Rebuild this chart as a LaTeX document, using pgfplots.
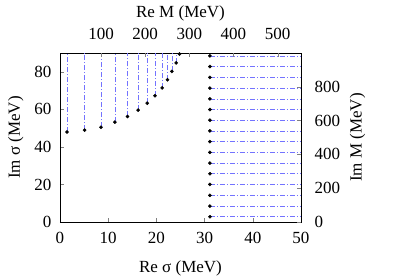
\documentclass[border=0pt]{standalone}
\usepackage{pgfplots}
\pgfplotsset{compat=1.18}
\usepackage{fontspec}
\setmainfont{Liberation Serif}
\definecolor{lineblue}{rgb}{0.45,0.45,1}
\begin{document}
\begin{tikzpicture}
\pgfplotsset{
  every axis/.append style={
    scale only axis, width=241pt, height=169pt,
    /pgf/number format/assume math mode=true,
    tick label style={font=\fontsize{17}{20}\selectfont},
    label style={font=\fontsize{17}{20}\selectfont},
  },
  dd/.style={draw=lineblue, line width=0.6pt, no marks, dash pattern=on 5pt off 2pt on 1pt off 2pt, unbounded coords=jump, forget plot},
}
\begin{axis}[
  name=main,
  xmin=0, xmax=50, ymin=0, ymax=90,
  xtick={0,10,20,30,40,50}, ytick={0,20,40,60,80},
  tick pos=left,
  xticklabel shift=7pt, yticklabel shift=5pt,
  xlabel shift=10pt, ylabel shift=4pt,
  xlabel={Re σ (MeV)}, ylabel={Im σ (MeV)},
  clip=true,
]
% vertical lines from left points up to the top edge
\addplot[dd] coordinates {
 (1.45,47.9) (1.45,90) (nan,nan)
 (5.1,48.9) (5.1,90) (nan,nan)
 (8.5,50.5) (8.5,90) (nan,nan)
 (11.4,53.2) (11.4,90) (nan,nan)
 (14.0,56.2) (14.0,90) (nan,nan)
 (16.2,59.6) (16.2,90) (nan,nan)
 (18.1,63.3) (18.1,90) (nan,nan)
 (19.7,67.2) (19.7,90) (nan,nan)
 (21.2,71.4) (21.2,90) (nan,nan)
 (22.3,75.7) (22.3,90) (nan,nan)
 (23.2,80.2) (23.2,90) (nan,nan)
 (24.1,84.7) (24.1,90) (nan,nan)
 (24.8,89.5) (24.8,90)
};
% horizontal lines from right points to the right edge
\addplot[dd] coordinates {
 (31.1,2.8) (50,2.8) (nan,nan)
 (31.1,8.5) (50,8.5) (nan,nan)
 (31.1,14.2) (50,14.2) (nan,nan)
 (31.1,20.0) (50,20.0) (nan,nan)
 (31.1,25.7) (50,25.7) (nan,nan)
 (31.1,31.4) (50,31.4) (nan,nan)
 (31.1,37.1) (50,37.1) (nan,nan)
 (31.1,42.8) (50,42.8) (nan,nan)
 (31.1,48.5) (50,48.5) (nan,nan)
 (31.1,54.2) (50,54.2) (nan,nan)
 (31.1,59.9) (50,59.9) (nan,nan)
 (31.1,65.6) (50,65.6) (nan,nan)
 (31.1,71.3) (50,71.3) (nan,nan)
 (31.1,77.0) (50,77.0) (nan,nan)
 (31.1,82.8) (50,82.8) (nan,nan)
 (31.1,88.5) (50,88.5)
};
\addplot[only marks, mark=*, mark size=1.6pt, black, clip mode=individual] coordinates {
 (1.45,47.9) (5.1,48.9) (8.5,50.5) (11.4,53.2) (14.0,56.2) (16.2,59.6)
 (18.1,63.3) (19.7,67.2) (21.2,71.4) (22.3,75.7) (23.2,80.2) (24.1,84.7) (24.8,89.5)
};
\addplot[only marks, mark=*, mark size=1.6pt, black, clip mode=individual] coordinates {
 (31.1,2.8) (31.1,8.5) (31.1,14.2) (31.1,20.0) (31.1,25.7) (31.1,31.4)
 (31.1,37.1) (31.1,42.8) (31.1,48.5) (31.1,54.2) (31.1,59.9) (31.1,65.6)
 (31.1,71.3) (31.1,77.0) (31.1,82.8) (31.1,88.5)
};
\end{axis}
\begin{axis}[
  at={(main.south west)}, anchor=south west,
  xmin=7, xmax=553, ymin=0, ymax=1000,
  xtick={100,200,300,400,500}, ytick={0,200,400,600,800},
  axis x line*=top, axis y line*=right,
  axis line style={draw=none},
  tick pos=right,
  xticklabel shift=10pt, yticklabel shift=10pt,
  xlabel shift=0pt, ylabel shift=3pt,
  xlabel={Re M (MeV)}, ylabel={Im M (MeV)},
]
\addplot[draw=none, forget plot] coordinates {(100,100)};
\end{axis}
\path (main.south west) ++(-60pt,-57pt) rectangle ++(399pt,279pt);
\end{tikzpicture}
\end{document}
